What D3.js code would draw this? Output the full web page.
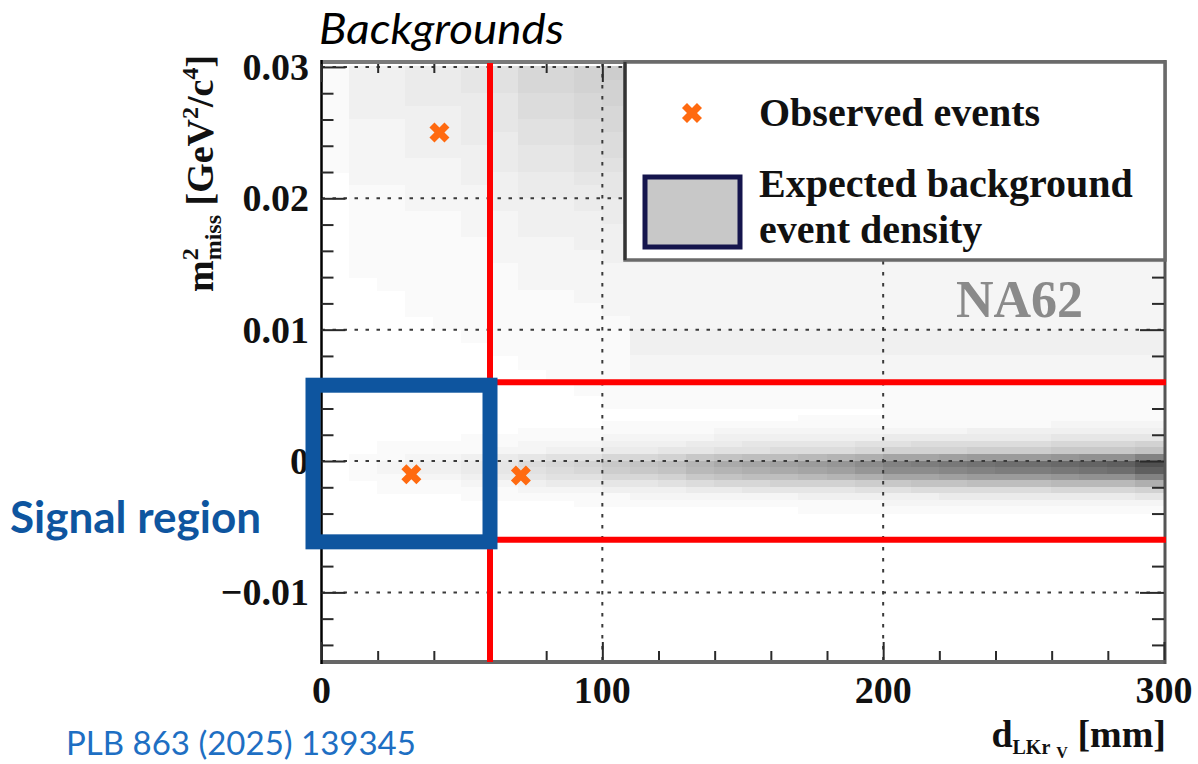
<!DOCTYPE html>
<html><head><meta charset="utf-8">
<script src="https://cdn.jsdelivr.net/npm/d3@7"></script>
<style>html,body{margin:0;padding:0;background:#fff}svg{display:block}</style>
</head><body>
<svg id="chart" width="1198" height="764"></svg>
<script>
// ---------------- data ----------------
const xDomain = [0, 300];
const yDomain = [-0.0153, 0.0303];
const xMajorTicks = [0, 100, 200, 300];
const xTickLabels = ["0", "100", "200", "300"];
const yMajorTicks = [-0.01, 0, 0.01, 0.02, 0.03];
const yTickLabels = ["\u22120.01", "0", "0.01", "0.02", "0.03"];
const xGrid = [100, 200];
const yGrid = [-0.01, 0, 0.01, 0.02, 0.03];

// density bins: 30 columns of 10 mm; values in base-36 (0 = white, z = darkest)
const densityBinWidth = 10;
const upperTop = 0.03, upperStep = 0.001;
const upperRows = [
  "1334456889aaaaaaaaaaaaaaaaaaaa",
  "133445688999999999999999999999",
  "133444577899999999999999999999",
  "133334577888888888888888888888",
  "122334566788888888888888888888",
  "122334466777777777777777777777",
  "122333455677777777777777777777",
  "122223455666666666666666666666",
  "022223344555555555555555555555",
  "011222344455555555555555555555",
  "011222333444444444444444444444",
  "011112233344444444444444444444",
  "011112233333333333333333333333",
  "011111222333333333333333333333",
  "011111222233333333333333333333",
  "011111122222222222222222222222",
  "001111122222222222222222222222",
  "000111111222222222222222222222",
  "000111111122222222222222222222",
  "000011111112222222222222222222",
  "000001111113333333333333333333",
  "000000111113333333333333333333",
  "000000011112222222222222222222",
  "000000001112222222222222222222",
  "000000000111111111111111111111",
  "000000000011111111111111111111"
];
const bandTop = 0.004, bandStep = 0.0005;
const bandRows = [
  "000000000000000000001111111111",
  "000000000000000001111111111111",
  "000000000011111111111111112222",
  "000000011111112222222223333333",
  "000001111122223333334444445555",
  "001111122233344555566777778889",
  "00111122334455667778999aaabbbc",
  "0112234566889bcddefgiijkkklmmp",
  "0123345789bcdfhijklnpqrsttuvwz",
  "0123345678abcefghijlnnopqqrstw",
  "0112234566889bcddefgiijkkklmmp",
  "0011122344556788999abccdddeeeg",
  "001111122233344555566777778889",
  "000001111112222223333344444445",
  "000000000111111111112222222222",
  "000000000000000001111111111111"
];

const observedX = [42, 32, 71];
const observedY = [0.025, -0.001, -0.0011];

const cutX = 60;              // vertical red cut
const cutY = [-0.006, 0.006]; // horizontal red cuts
const signalX = [0, 60];
const signalY = [-0.006, 0.006];

const legendLabels = ["Observed events", "Expected background", "event density"];

// ---------------- drawing ----------------
const svg = d3.select("#chart");
const x = d3.scaleLinear().domain(xDomain).range([321.5, 1164]);
const y = d3.scaleLinear().domain(yDomain).range([662, 63]);
const gray = d3.scaleLinear().domain([0, 35]).range(["#ffffff", "#505050"]);
const serif = "'Liberation Serif','Times New Roman',serif";

svg.append("defs").append("clipPath").attr("id", "plotclip")
  .append("rect").attr("x", x(0)).attr("y", y(yDomain[1])).attr("width", x(300) - x(0)).attr("height", y(yDomain[0]) - y(yDomain[1]));

// heatmap cells
const cells = [];
function addRows(rows, rowTop, step) {
  rows.forEach((row, r) => {
    const yt = rowTop - r * step;
    for (let i = 0; i < 30; i++) {
      const v = parseInt(row[i] || "0", 36) || 0;
      if (v > 0) cells.push({ x0: i * densityBinWidth, x1: (i + 1) * densityBinWidth, yt: yt, yb: yt - step, v: v });
    }
  });
}
addRows(upperRows, upperTop, upperStep);
addRows(bandRows, bandTop, bandStep);

const plot = svg.append("g").attr("clip-path", "url(#plotclip)");
plot.selectAll("rect.cell").data(cells).join("rect").attr("class", "cell")
  .attr("x", d => Math.floor(x(d.x0)))
  .attr("y", d => Math.floor(y(d.yt)))
  .attr("width", d => Math.ceil(x(d.x1)) - Math.floor(x(d.x0)))
  .attr("height", d => Math.ceil(y(d.yb)) - Math.floor(y(d.yt)))
  .attr("fill", d => gray(d.v))
  .attr("shape-rendering", "crispEdges");

// gridlines
const gridG = svg.append("g").attr("stroke", "#3a3a3a").attr("stroke-width", 2).attr("stroke-dasharray", "3.5 7.5");
gridG.selectAll("line.h").data(yGrid).join("line").attr("class", "h")
  .attr("x1", x(0)).attr("x2", x(300)).attr("y1", d => y(d)).attr("y2", d => y(d));
gridG.selectAll("line.v").data(xGrid).join("line").attr("class", "v")
  .attr("y1", y(yDomain[1])).attr("y2", y(yDomain[0])).attr("x1", d => x(d)).attr("x2", d => x(d));

// frame
const plotTop = y(yDomain[1]), plotBot = y(yDomain[0]);
svg.append("line").attr("x1", x(0)).attr("x2", x(300) + 2).attr("y1", plotTop - 1).attr("y2", plotTop - 1).attr("stroke", "#7a7a7a").attr("stroke-width", 4);
svg.append("line").attr("x1", x(0)).attr("x2", x(300) + 2).attr("y1", plotBot).attr("y2", plotBot).attr("stroke", "#666").attr("stroke-width", 4);
svg.append("line").attr("x1", x(300) + 1).attr("x2", x(300) + 1).attr("y1", plotTop - 3).attr("y2", plotBot + 2).attr("stroke", "#555").attr("stroke-width", 3);
svg.append("line").attr("x1", x(0)).attr("x2", x(0)).attr("y1", plotTop - 3).attr("y2", plotBot + 2).attr("stroke", "#000").attr("stroke-width", 2.5);

// ticks using d3 axes
const xMinor = d3.range(0, 301, 20).filter(v => v % 100 !== 0);
const yMinor = d3.range(-14, 31, 2).map(v => v / 1000).filter(v => Math.abs(Math.round(v * 1000)) % 10 !== 0);
function tickAxis(axisFn, scale, vals, len, transform) {
  const g = svg.append("g").attr("transform", transform)
    .call(axisFn(scale).tickValues(vals).tickSize(len).tickFormat(""));
  g.select(".domain").remove();
  g.selectAll(".tick line").attr("stroke", "#2a2a2a").attr("stroke-width", 2);
}
tickAxis(d3.axisTop, x, xMajorTicks, 18, `translate(0,${plotBot - 2})`);
tickAxis(d3.axisTop, x, xMinor, 9, `translate(0,${plotBot - 2})`);
tickAxis(d3.axisBottom, x, xMajorTicks, 18, `translate(0,${plotTop + 1})`);
tickAxis(d3.axisBottom, x, xMinor, 9, `translate(0,${plotTop + 1})`);
tickAxis(d3.axisRight, y, yMajorTicks, 24, `translate(${x(0)},0)`);
tickAxis(d3.axisRight, y, yMinor, 12, `translate(${x(0)},0)`);
tickAxis(d3.axisLeft, y, yMajorTicks, 24, `translate(${x(300)},0)`);
tickAxis(d3.axisLeft, y, yMinor, 12, `translate(${x(300)},0)`);

// tick labels
svg.append("g").selectAll("text").data(yMajorTicks).join("text")
  .attr("x", 309).attr("y", d => y(d) + 13).attr("text-anchor", "end")
  .attr("font-family", serif).attr("font-weight", "bold").attr("font-size", 38).attr("fill", "#111")
  .text((d, i) => yTickLabels[i]);
svg.append("g").selectAll("text").data(xMajorTicks).join("text")
  .attr("x", d => x(d)).attr("y", 703).attr("text-anchor", "middle")
  .attr("font-family", serif).attr("font-weight", "bold").attr("font-size", 38).attr("fill", "#111")
  .text((d, i) => xTickLabels[i]);

// red cut lines
svg.append("line").attr("x1", x(cutX)).attr("x2", x(cutX)).attr("y1", plotTop).attr("y2", plotBot)
  .attr("stroke", "#ff0000").attr("stroke-width", 6);
svg.selectAll("line.cut").data(cutY).join("line").attr("class", "cut")
  .attr("x1", x(cutX)).attr("x2", x(300) + 2).attr("y1", d => y(d)).attr("y2", d => y(d))
  .attr("stroke", "#ff0000").attr("stroke-width", 6);

// observed events
const markerPath = d3.symbol(d3.symbolCross, 250)();
svg.selectAll("path.obs").data(observedX.map((v, i) => [v, observedY[i]])).join("path").attr("class", "obs")
  .attr("d", markerPath)
  .attr("transform", d => `translate(${x(d[0])},${y(d[1])}) rotate(45)`)
  .attr("fill", "#ff6a10");

// legend
svg.append("rect").attr("x", 625).attr("y", plotTop - 1).attr("width", x(300) + 1 - 625).attr("height", 198)
  .attr("fill", "#fff").attr("stroke", "#6a6a6a").attr("stroke-width", 3.5);
svg.append("line").attr("x1", 625).attr("x2", 625).attr("y1", plotTop - 1).attr("y2", plotTop + 197).attr("stroke", "#333").attr("stroke-width", 3);
svg.append("path").attr("d", markerPath).attr("transform", "translate(692,113) rotate(45)").attr("fill", "#ff6a10");
svg.append("rect").attr("x", 645).attr("y", 177).attr("width", 95).attr("height", 70)
  .attr("fill", "#c8c8c8").attr("stroke", "#15154d").attr("stroke-width", 5);
const legText = svg.append("g").attr("font-family", serif).attr("font-weight", "bold").attr("font-size", 40).attr("fill", "#111");
legText.append("text").attr("x", 759).attr("y", 126).text(legendLabels[0]);
legText.append("text").attr("x", 759).attr("y", 197).text(legendLabels[1]);
legText.append("text").attr("x", 759).attr("y", 243).text(legendLabels[2]);

// NA62 label
svg.append("text").attr("x", 956).attr("y", 317).attr("font-family", serif).attr("font-weight", "bold")
  .attr("font-size", 52).attr("fill", "#8a8a8a").text("NA62");

// axis titles
const xt = svg.append("text").attr("x", 1166).attr("y", 747).attr("text-anchor", "end")
  .attr("font-family", serif).attr("font-weight", "bold").attr("font-size", 38).attr("fill", "#111");
xt.append("tspan").text("d");
xt.append("tspan").attr("font-size", 20).attr("dy", 7).text("LKr");
xt.append("tspan").attr("font-size", 16).attr("dy", 4).attr("dx", 6).text("V");
xt.append("tspan").attr("dy", -11).text(" [mm]");

const yt = svg.append("text").attr("transform", "translate(213,292) rotate(-90)")
  .attr("font-family", serif).attr("font-weight", "bold").attr("font-size", 38).attr("fill", "#111");
yt.append("tspan").text("m");
yt.append("tspan").attr("font-size", 24).attr("dy", -15).text("2");
yt.append("tspan").attr("font-size", 24).attr("dy", 23).attr("dx", -12).text("miss");
yt.append("tspan").attr("dy", -8).text(" [GeV");
yt.append("tspan").attr("font-size", 24).attr("dy", -15).text("2");
yt.append("tspan").attr("dy", 15).text("/c");
yt.append("tspan").attr("font-size", 24).attr("dy", -15).text("4");
yt.append("tspan").attr("dy", 15).text("]");

// signal region box
svg.append("rect")
  .attr("x", x(signalX[0]) - 8.5).attr("y", y(signalY[1]) + 3)
  .attr("width", x(signalX[1]) - x(signalX[0]) + 8.5).attr("height", y(signalY[0]) - y(signalY[1]) - 1)
  .attr("fill", "none").attr("stroke", "#0e559f").attr("stroke-width", 15);

// annotations
svg.append("text").attr("x", 319).attr("y", 44).attr("font-family", "Lato, 'Open Sans', sans-serif")
  .attr("font-style", "italic").attr("font-size", 43).attr("textLength", 245).attr("lengthAdjust", "spacingAndGlyphs")
  .attr("fill", "#000").text("Backgrounds");
svg.append("text").attr("x", 10).attr("y", 533).attr("font-family", "Lato, 'Open Sans', sans-serif")
  .attr("font-weight", "bold").attr("font-size", 44).attr("fill", "#0e559f").text("Signal region");
svg.append("text").attr("x", 66).attr("y", 755).attr("font-family", "Lato, 'Open Sans', sans-serif")
  .attr("font-size", 33).attr("fill", "#1e6fc3").text("PLB 863 (2025) 139345");
</script>
</body></html>
